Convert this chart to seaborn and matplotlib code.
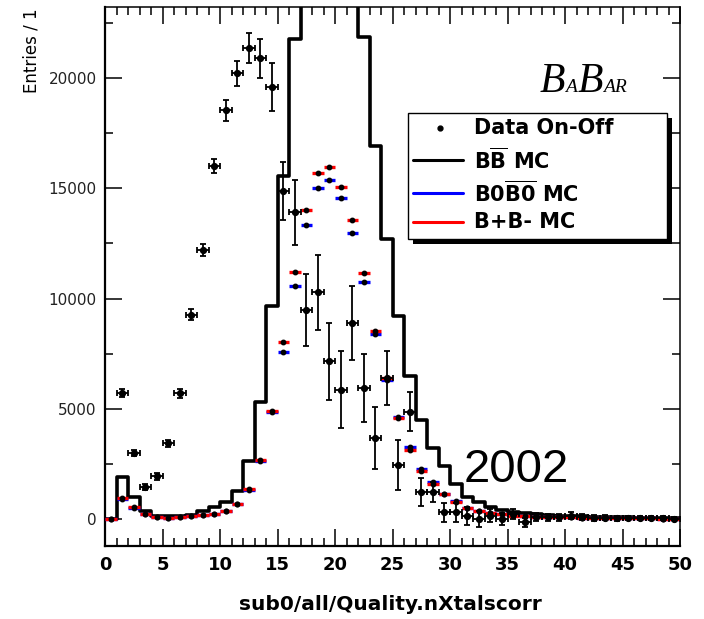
import numpy as np
import pandas as pd
import matplotlib
matplotlib.use("Agg")
import matplotlib.pyplot as plt
import seaborn as sns
from matplotlib.ticker import MultipleLocator
from matplotlib.lines import Line2D
from matplotlib.patches import Rectangle

# ---------------- data ----------------
bin_edges = np.arange(0, 51, 1)
bin_centers = bin_edges[:-1] + 0.5

bb_mc = [0, 1890, 983, 377, 150, 120, 150, 180, 377, 530,
         756, 1285, 2645, 5290, 9673, 15570, 21770, 27340, 30690, 31350,
         29610, 26520, 21845, 16930, 12700, 9220, 6500, 4490, 3206, 2418,
         1587, 983, 756, 560, 423, 333, 272, 227, 190, 160,
         140, 120, 100, 90, 80, 70, 60, 50, 40, 30]

b0b0_mc = [0, 920, 520, 220, 90, 50, 90, 130, 170, 220,
           370, 670, 1320, 2650, 4860, 7560, 10580, 13330, 15000, 15370,
           14540, 12960, 10760, 8390, 6300, 4650, 3250, 2250, 1660, 1150,
           800, 510, 380, 280, 215, 165, 130, 110, 95, 80,
           70, 60, 50, 45, 40, 35, 30, 25, 20, 15]

bpbm_mc = [0, 950, 540, 230, 90, 50, 90, 140, 180, 230,
           380, 680, 1340, 2700, 4900, 8010, 11190, 14010, 15690, 15980,
           15070, 13560, 11140, 8540, 6400, 4600, 3150, 2200, 1600, 1130,
           780, 500, 380, 280, 210, 160, 130, 110, 95, 80,
           70, 60, 50, 45, 40, 35, 30, 25, 20, 15]

data_on_off = [np.nan, 5700, 2990, 1465, 1930, 3430, 5710, 9265, 12200, 16020,
               18550, 20210, 21350, 20890, 19600, 14890, 13910, 9490, 10280, 7150,
               5865, 8890, 5925, 3660, 6390, 2450, 4870, 1210, 1210, 300,
               300, 150, 0, 150, 0, 230, -150, 80, 80, 80,
               150, 80, 60, 60, 40, 40, 40, 30, 30, 20]

data_err = [np.nan, 180, 150, 130, 150, 170, 200, 250, 280, 330,
            475, 580, 680, 880, 1090, 1320, 1470, 1630, 1700, 1750,
            1750, 1680, 1540, 1400, 1220, 1150, 890, 640, 450, 450,
            450, 400, 350, 300, 260, 230, 200, 180, 170, 160,
            150, 140, 130, 120, 110, 100, 100, 90, 90, 80]

x_ticks = [0, 5, 10, 15, 20, 25, 30, 35, 40, 45, 50]
y_ticks = [0, 5000, 10000, 15000, 20000]

legend_labels = ["Data On-Off", r"B$\overline{\mathbf{B}}$ MC",
                 r"B0$\overline{\mathbf{B0}}$ MC", "B+B- MC"]

# ---------------- style ----------------
sns.set_theme(style="ticks")
plt.rcParams['font.family'] = ['Liberation Sans', 'DejaVu Sans']
plt.rcParams['mathtext.fontset'] = 'custom'
plt.rcParams['mathtext.rm'] = 'DejaVu Sans:bold'
plt.rcParams['mathtext.bf'] = 'DejaVu Sans:bold'

W, H = 704, 619
fig = plt.figure(figsize=(W / 100, H / 100), dpi=100)
fig.patch.set_facecolor('white')


def fx(x):
    return x / W


def fy(y):
    return 1 - y / H


ax_l, ax_r, ax_t, ax_b = 105, 680, 7, 546
ax = fig.add_axes([fx(ax_l), fy(ax_b), (ax_r - ax_l) / W, (ax_b - ax_t) / H])
ax.set_facecolor('white')

df = pd.DataFrame({"x": bin_centers, "bb": bb_mc, "b0": b0b0_mc, "bp": bpbm_mc,
                   "data": data_on_off, "err": data_err})

# BB MC histogram
sns.histplot(data=df, x="x", weights="bb", binwidth=1, binrange=(0, 50),
             element="step", fill=False, color="black", linewidth=2.6, ax=ax)

# B0B0bar MC and B+B- MC points
ax.errorbar(df["x"], df["b0"], xerr=0.5, fmt='o', color='black', ms=3.2,
            ecolor='#0000ff', elinewidth=2.4, capsize=0, zorder=3)
ax.errorbar(df["x"], df["bp"], xerr=0.5, fmt='o', color='black', ms=3.2,
            ecolor='#ff0000', elinewidth=2.4, capsize=0, zorder=3.1)

# Data On-Off
dd = df.dropna()
ax.errorbar(dd["x"], dd["data"], xerr=0.5, yerr=dd["err"], fmt='o', color='black',
            ms=4.2, elinewidth=1.3, capsize=2.5, capthick=1.3, zorder=4)

ax.set_xlim(0, 50)
ax.set_ylim(-1223, 23225)
ax.set_xlabel("")
ax.set_ylabel("")
ax.set_xticks(x_ticks)
ax.set_yticks(y_ticks)
ax.xaxis.set_minor_locator(MultipleLocator(1))
ax.yaxis.set_minor_locator(MultipleLocator(2500))
ax.tick_params(which='both', direction='in', top=True, right=True, color='black')
ax.tick_params(which='major', length=12, width=1.1)
ax.tick_params(which='minor', length=6, width=1.1)
ax.tick_params(axis='x', which='major', pad=7, labelcolor='black')
ax.tick_params(axis='y', which='major', pad=6, labelcolor='#222222')
for lab in ax.get_xticklabels():
    lab.set_fontfamily('DejaVu Sans')
    lab.set_fontweight('bold')
    lab.set_fontsize(13)
for lab in ax.get_yticklabels():
    lab.set_fontfamily('DejaVu Sans')
    lab.set_fontsize(11)
for side in ['left', 'bottom']:
    ax.spines[side].set_linewidth(1.6)
for side in ['top', 'right']:
    ax.spines[side].set_linewidth(1.1)
for s in ax.spines.values():
    s.set_color('black')

# axis titles
fig.text(fx(31), fy(8), "Entries / 1", rotation=90, ha='center', va='top',
         fontsize=12, family='DejaVu Sans', color='black')
fig.text(fx(390), fy(604), "sub0/all/Quality.nXtalscorr", ha='center', va='center',
         fontsize=14.5, family='DejaVu Sans', fontweight='bold', color='black')

# 2002
fig.text(fx(516), fy(470), "2002", ha='center', va='center', fontsize=34,
         family='Liberation Sans', color='black')

# BaBar logo
renderer = fig.canvas.get_renderer()
xcur = 540
for s, size in [("B", 30), ("A", 14), ("B", 30), ("AR", 14)]:
    t = fig.text(fx(xcur), fy(92), s, fontsize=size, family='Liberation Serif',
                 style='italic', ha='left', va='baseline', color='black')
    bb = t.get_window_extent(renderer=renderer)
    xcur += bb.width

# Legend (ROOT style box with shadow)
fig.patches.append(Rectangle((fx(413), fy(244)), (672 - 413) / W, (244 - 118) / H,
                             transform=fig.transFigure, facecolor='black',
                             edgecolor='none', zorder=5))
fig.patches.append(Rectangle((fx(408), fy(239)), (667 - 408) / W, (239 - 113) / H,
                             transform=fig.transFigure, facecolor='white',
                             edgecolor='black', lw=1, zorder=6))
entry_y = [128, 160, 193, 222]
fig.add_artist(Line2D([fx(440)], [fy(entry_y[0])], marker='o', ms=3.5, color='black',
                      transform=fig.transFigure, zorder=7))
for yy, col in zip(entry_y[1:], ['black', '#0000ff', '#ff0000']):
    fig.add_artist(Line2D([fx(413), fx(463)], [fy(yy), fy(yy)], color=col, lw=2.2,
                          transform=fig.transFigure, zorder=7))
for yy, lab in zip(entry_y, legend_labels):
    fig.text(fx(474), fy(yy), lab, ha='left', va='center', fontsize=15,
             family='DejaVu Sans', fontweight='bold', color='black', zorder=8)

fig.savefig("out.png", dpi=100)
